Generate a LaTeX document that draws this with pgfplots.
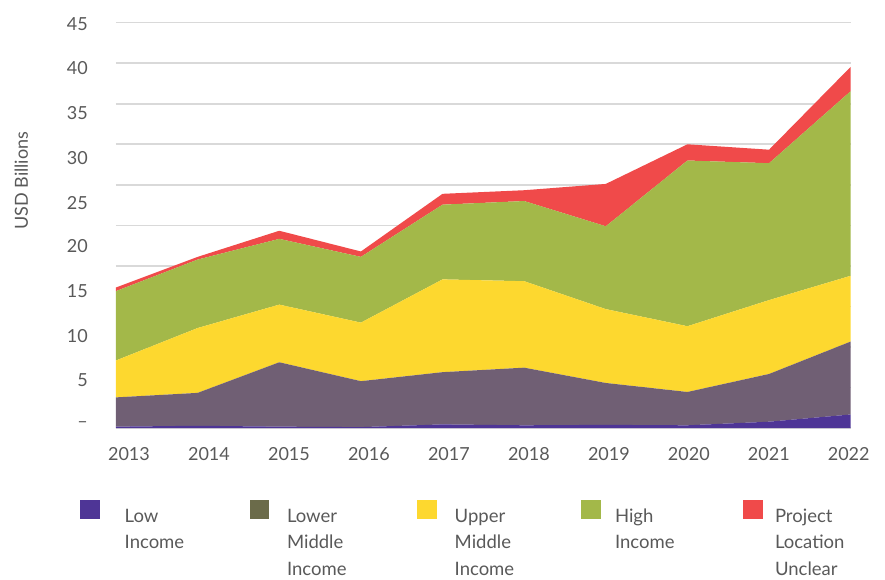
\documentclass[border=0pt]{standalone}
\usepackage{pgfplots}
\pgfplotsset{compat=1.18}
\usepackage{pgfplotstable}
\usepackage{fontspec}
\setmainfont{Lato}
\definecolor{cLow}{HTML}{4E3596}
\definecolor{cLM}{HTML}{705F74}
\definecolor{cLMleg}{HTML}{6B6B4A}
\definecolor{cUM}{HTML}{FDD82F}
\definecolor{cHigh}{HTML}{A3B849}
\definecolor{cRed}{HTML}{F04A4A}
\definecolor{cGrid}{HTML}{D9D9D9}
\definecolor{cText}{HTML}{595959}
\pgfplotstableread{
year  low   lm    um    high  unc
2013  0.15  3.25  4.1   7.7   0.4
2014  0.25  3.65  7.2   7.6   0.3
2015  0.15  7.15  6.4   7.3   0.9
2016  0.10  5.10  6.5   7.3   0.6
2017  0.40  5.80  10.3  8.3   1.2
2018  0.30  6.40  9.6   8.9   1.2
2019  0.35  4.65  8.2   9.2   4.7
2020  0.30  3.70  7.3   18.4  1.8
2021  0.70  5.30  8.2   15.2  1.5
2022  1.50  8.10  7.3   20.5  2.7
}\datatable
\begin{document}
\begin{tikzpicture}
\begin{axis}[
  name=ax,
  scale only axis,
  width=734.7bp, height=405.3bp,
  xmin=2013, xmax=2022, ymin=0, ymax=45,
  stack plots=y,
  axis line style={draw=none},
  tick style={draw=none},
  major tick length=0pt,
  /pgf/number format/assume math mode=true,
  xtick={2013.159,2014.139,2015.119,2016.098,2017.078,2018.058,2019.038,2020.017,2020.997,2021.976},
  xticklabels={2013,2014,2015,2016,2017,2018,2019,2020,2021,2022},
  xticklabel style={anchor=north, inner sep=0pt, yshift=-19bp, font=\fontsize{18bp}{21bp}\selectfont, text=cText},
  ytick={0.4,5.35,10.2,15.25,20.15,25,30,35,40,44.8},
  yticklabels={–,5,10,15,20,25,30,35,40,45},
  yticklabel style={anchor=east, inner sep=0pt, xshift=-28bp, font=\fontsize{18bp}{21bp}\selectfont, text=cText},
  extra y ticks={0,4.5,9,13.5,18,22.5,27,31.5,36,40.5,45},
  extra y tick labels={},
  extra y tick style={grid=major, major grid style={draw=cGrid, line width=1.6bp}},
  ylabel={USD Billions},
  ylabel style={at={(axis description cs:-0.129,0.61)}, anchor=center, font=\fontsize{18bp}{21bp}\selectfont, text=cText},
  legend columns=5,
  legend style={draw=none, fill=none, inner sep=0pt, outer sep=0pt,
    /tikz/column sep=0pt,
    cells={anchor=base west},
    nodes={inner sep=0pt},
    font=\fontsize{18.5bp}{26.5bp}\selectfont, text=cText,
    at={(axis description cs:-0.049,-0.1579)}, anchor=north west},
]
\addplot[forget plot, fill=cLow, draw=none] table[x=year,y=low]{\datatable} \closedcycle;
\addplot[forget plot, fill=cLM, draw=none] table[x=year,y=lm]{\datatable} \closedcycle;
\addplot[forget plot, fill=cUM, draw=none] table[x=year,y=um]{\datatable} \closedcycle;
\addplot[forget plot, fill=cHigh, draw=none] table[x=year,y=high]{\datatable} \closedcycle;
\addplot[forget plot, fill=cRed, draw=none] table[x=year,y=unc]{\datatable} \closedcycle;
\addlegendimage{legend image code/.code={\fill[cLow, draw=none] (0bp,3bp) rectangle (19.5bp,22bp); \path[draw=none, fill=none] (0bp,0bp) rectangle (44.7bp,30bp);}}
\addlegendentry{\parbox[t]{124.8bp}{\raggedright Low\\Income}}
\addlegendimage{legend image code/.code={\fill[cLMleg, draw=none] (0bp,3bp) rectangle (19.5bp,22bp); \path[draw=none, fill=none] (0bp,0bp) rectangle (37.5bp,30bp);}}
\addlegendentry{\parbox[t]{130bp}{\raggedright Lower\\Middle\\Income}}
\addlegendimage{legend image code/.code={\fill[cUM, draw=none] (0bp,3bp) rectangle (19.5bp,22bp); \path[draw=none, fill=none] (0bp,0bp) rectangle (37.7bp,30bp);}}
\addlegendentry{\parbox[t]{126.3bp}{\raggedright Upper\\Middle\\Income}}
\addlegendimage{legend image code/.code={\fill[cHigh, draw=none] (0bp,3bp) rectangle (19.5bp,22bp); \path[draw=none, fill=none] (0bp,0bp) rectangle (34bp,30bp);}}
\addlegendentry{\parbox[t]{128bp}{\raggedright High\\Income}}
\addlegendimage{legend image code/.code={\fill[cRed, draw=none] (0bp,3bp) rectangle (19.5bp,22bp); \path[draw=none, fill=none] (0bp,0bp) rectangle (32bp,30bp);}}
\addlegendentry{\parbox[t]{100bp}{\raggedright Project\\Location\\Unclear}}
\end{axis}
\pgfresetboundingbox
\path[use as bounding box] ([shift={(-116bp,-151bp)}]ax.south west) rectangle ([shift={(34.3bp,22.7bp)}]ax.north east);
\end{tikzpicture}
\end{document}
